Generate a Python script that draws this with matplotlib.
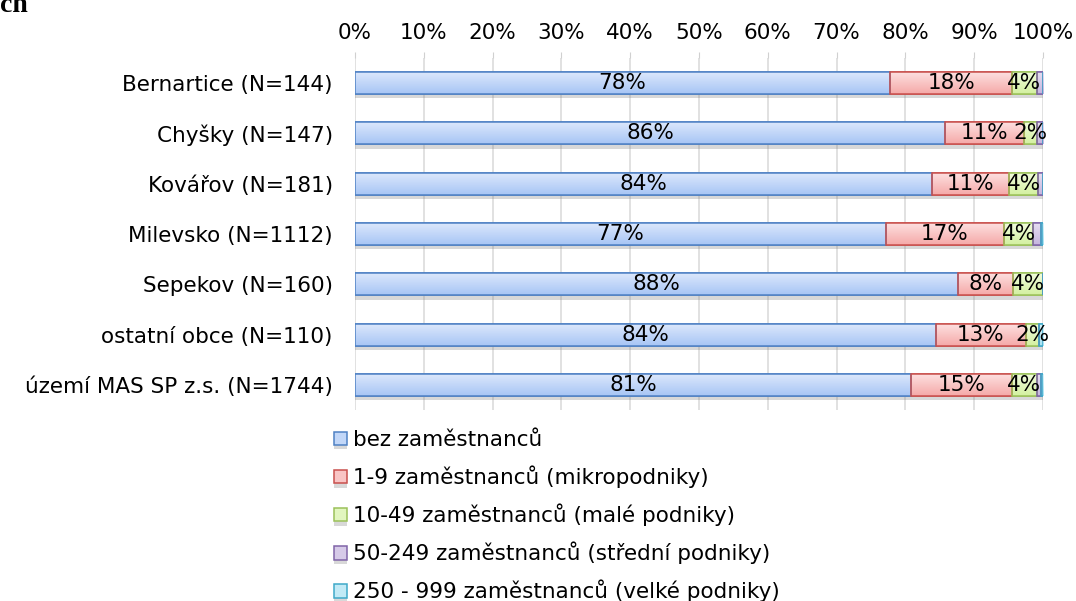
import numpy as np
import matplotlib
matplotlib.use('Agg')
import matplotlib.pyplot as plt
import matplotlib.patheffects as pe
from matplotlib.colors import LinearSegmentedColormap

plt.rcParams['font.family'] = ['DejaVu Sans']

# podíly podniků podle počtu zaměstnanců (%)
obce = ['Bernartice (N=144)', 'Chyšky (N=147)', 'Kovářov (N=181)', 'Milevsko (N=1112)',
        'Sepekov (N=160)', 'ostatní obce (N=110)', 'území MAS SP z.s. (N=1744)']
bez = [77.8, 85.8, 83.9, 77.2, 87.6, 84.4, 80.8]
mikro = [17.7, 11.4, 11.2, 17.1, 8.1, 13.1, 14.7]
male = [3.6, 1.9, 4.2, 4.3, 4.3, 1.9, 3.6]
stredni = [0.9, 0.9, 0.7, 1.1, 0.0, 0.0, 0.6]
velke = [0.0, 0.0, 0.0, 0.3, 0.0, 0.6, 0.3]

kategorie = ['bez zaměstnanců', '1-9 zaměstnanců (mikropodniky)', '10-49 zaměstnanců (malé podniky)',
             '50-249 zaměstnanců (střední podniky)', '250 - 999 zaměstnanců (velké podniky)']
serie = [bez, mikro, male, stredni, velke]
popisky = [True, True, True, False, False]

# (horní barva, spodní barva, okraj)
barvy = [('#dee9fc', '#a7c5f5', '#4f81c4'),
         ('#fde2e2', '#f5a9a8', '#c9504d'),
         ('#f2fcdf', '#d3f0a0', '#9bc15a'),
         ('#e8e0f2', '#c5b4de', '#8064a8'),
         ('#ddf4fb', '#a8e1f2', '#3fa9c9')]

fs = 15.5

fig = plt.figure(figsize=(10.76, 6.01), dpi=100)
ax = fig.add_axes([355/1076, 1 - 410/601, 688/1076, 352/601])

y = np.arange(len(obce))
vyska = 0.44
left = np.zeros(len(obce))
handles = []
for s, hodnoty in enumerate(serie):
    hodnoty = np.array(hodnoty)
    top_c, bot_c, edge_c = barvy[s]
    cmap = LinearSegmentedColormap.from_list('g%d' % s, [top_c, bot_c])
    bars = ax.barh(y, hodnoty, vyska, left=left, color=cmap(0.5), edgecolor=edge_c,
                   linewidth=1.1, zorder=2, label=kategorie[s],
                   path_effects=[pe.SimplePatchShadow(offset=(0, -3), shadow_rgbFace='#808080', alpha=0.3),
                                 pe.Normal()])
    handles.append(bars)
    # přechod barvy uvnitř každého segmentu
    grad = np.linspace(0, 1, 64).reshape(-1, 1)
    for b in bars:
        if b.get_width() <= 0:
            continue
        x0, y0, w, h = b.get_x(), b.get_y(), b.get_width(), b.get_height()
        im = ax.imshow(grad, cmap=cmap, extent=[x0, x0 + w, y0 + h, y0], origin='upper',
                       aspect='auto', zorder=2.5, interpolation='bilinear')
        im.set_clip_path(b)
    ax.barh(y, hodnoty, vyska, left=left, facecolor='none', edgecolor=edge_c,
            linewidth=1.1, zorder=3)
    if popisky[s]:
        for yi, l, v in zip(y, left, hodnoty):
            ax.text(l + v / 2, yi, '%d%%' % round(v), ha='center', va='center',
                    fontsize=fs, color='black', zorder=4)
    left = left + hodnoty

ax.set_xlim(0, 100)
ax.set_ylim(len(obce) - 0.5, -0.5)
ax.set_yticks(y)
ax.set_yticklabels(obce, fontsize=fs)
ax.set_xticks(np.arange(0, 101, 10))
ax.set_xticklabels(['%d%%' % t for t in range(0, 101, 10)], fontsize=fs)
ax.xaxis.tick_top()
ax.tick_params(axis='x', length=4, color='#d0d0d0', pad=7)
ax.tick_params(axis='y', length=0, pad=16)
for sp in ax.spines.values():
    sp.set_visible(False)
ax.grid(axis='x', color='#dcdcdc', linewidth=1.2, zorder=0)
ax.set_axisbelow(True)

fig.legend(handles=handles, loc='upper left', bbox_to_anchor=(334/1076, 1 - 430/601),
           frameon=False, fontsize=fs, handlelength=0.6, handleheight=0.6,
           handletextpad=0.3, labelspacing=0.72, borderpad=0, borderaxespad=0)

fig.text(0.0, 1 - 12/601, 'ch', fontsize=20, fontweight='bold',
         family='Liberation Serif', va='baseline', ha='left')

fig.savefig('out.png', dpi=100)
